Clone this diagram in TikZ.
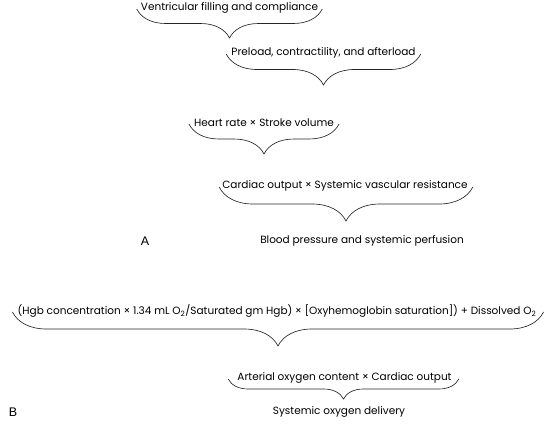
\documentclass[tikz,border=0pt]{standalone}
\usepackage{fontspec}
\setmainfont{Poppins}
\setsansfont{Liberation Sans}
\usetikzlibrary{decorations.pathreplacing}
\begin{document}
\begin{tikzpicture}[x=1pt,y=-1pt,
  lbl/.style={inner sep=0pt, font=\fontsize{10.5}{12}\selectfont},
  tag/.style={inner sep=0pt, font=\sffamily\fontsize{12.5}{14}\selectfont},
  brc/.style={decorate, decoration={brace, mirror, amplitude=#1}, line width=0.65pt, draw=black!85},
]
\useasboundingbox (0,0) rectangle (557,424);
\node[lbl] (v) at (229.5,8) {Ventricular filling and compliance};
\node[lbl] (p) at (323.5,53) {Preload, contractility, and afterload};
\node[lbl] (h) at (264,123) {Heart rate × Stroke volume};
\node[lbl] (c) at (345,186) {Cardiac output × Systemic vascular resistance};
\node[lbl] (bp) at (362,241) {Blood pressure and systemic perfusion};
\node[tag] (A) at (145,241) {A};
\node[lbl] (g) at (277,311) {(Hgb concentration × 1.34 mL O\textsubscript{2}/Saturated gm Hgb) × [Oxyhemoglobin saturation]) + Dissolved O\textsubscript{2}};
\node[lbl] (ao) at (344.5,378) {Arterial oxygen content × Cardiac output};
\node[lbl] (s) at (339,412) {Systemic oxygen delivery};
\node[tag] (B) at (13,412) {B};
\draw[brc=29] ([xshift=-4pt,yshift=-1pt]v.west) -- ([xshift=4pt,yshift=-1pt]v.east);
\draw[brc=31] ([xshift=-5pt,yshift=-1pt]p.west) -- ([xshift=5pt,yshift=-1pt]p.east);
\draw[brc=30] ([xshift=-5pt,yshift=-1pt]h.west) -- ([xshift=5pt,yshift=-1pt]h.east);
\draw[brc=34] ([xshift=-3pt,yshift=-1pt]c.west) -- ([xshift=5pt,yshift=-1pt]c.east);
\draw[brc=34] ([xshift=-5pt,yshift=-1pt]g.west) -- ([xshift=7pt,yshift=-1pt]g.east);
\draw[brc=20] ([xshift=-9pt,yshift=-1pt]ao.west) -- ([xshift=7pt,yshift=-1pt]ao.east);
\end{tikzpicture}
\end{document}
